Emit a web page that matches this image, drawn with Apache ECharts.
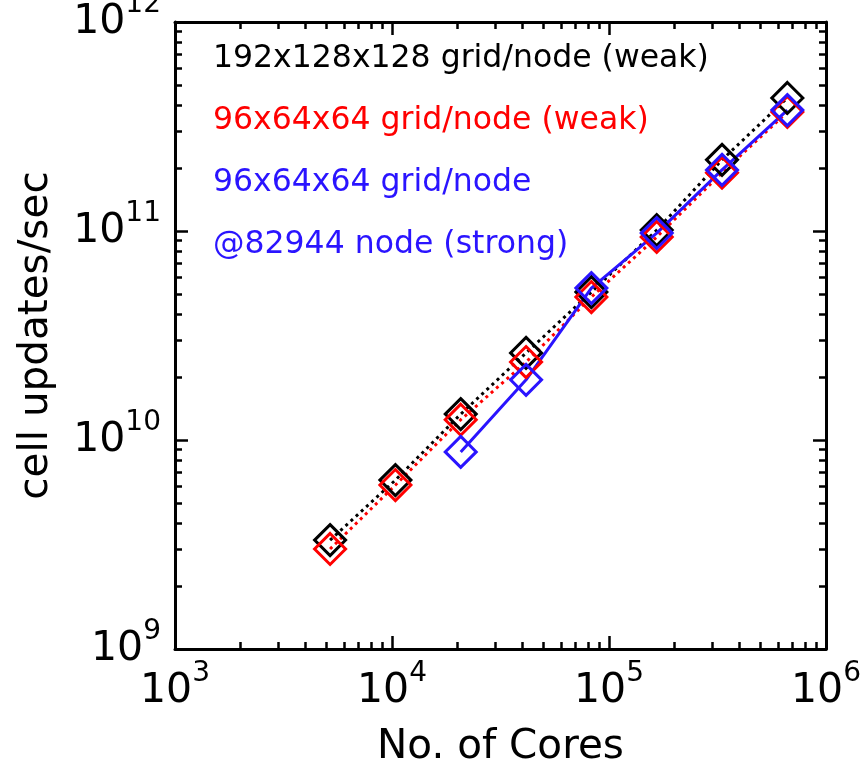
<!DOCTYPE html>
<html>
<head>
<meta charset="utf-8">
<script src="https://cdn.jsdelivr.net/npm/echarts@6/dist/echarts.min.js"></script>
<style>
  html, body { margin: 0; padding: 0; background: #fff; }
  #main { width: 862px; height: 759px; }
</style>
</head>
<body>
<div id="main"></div>
<script>
var FONT = '"DejaVu Sans", sans-serif';

// data
var cores = [5184, 10368, 20736, 41472, 82944, 165888, 331776, 663552];
var weak192 = [3.32e9, 6.43e9, 1.33e10, 2.61e10, 5.10e10, 1.01e11, 2.19e11, 4.33e11];
var weak96 = [3.01e9, 6.09e9, 1.25e10, 2.36e10, 4.83e10, 9.36e10, 1.90e11, 3.71e11];
var strongCores = [20736, 41472, 82944, 165888, 331776, 663552];
var strong96 = [8.77e9, 1.94e10, 5.33e10, 9.77e10, 1.96e11, 3.79e11];

var xMajor = [1e3, 1e4, 1e5, 1e6];
var yMajor = [1e9, 1e10, 1e11, 1e12];

var legendLines = [
    { text: '192x128x128 grid/node (weak)', color: '#000000' },
    { text: '96x64x64 grid/node (weak)', color: '#ff0000' },
    { text: '96x64x64 grid/node', color: '#2a14ff' },
    { text: '@82944 node (strong)', color: '#2a14ff' }
];

function minorsOf(majors) {
    var out = [];
    for (var i = 0; i < majors.length - 1; i++) {
        for (var k = 2; k <= 9; k++) {
            out.push(majors[i] * k);
        }
    }
    return out;
}

function pairs(xs, ys) {
    return xs.map(function (x, i) { return [x, ys[i]]; });
}

var powRich = {
    b: { fontFamily: FONT, fontSize: 41, lineHeight: 44, color: '#000' },
    s: { fontFamily: FONT, fontSize: 28, lineHeight: 28, color: '#000', padding: [0, 0, 34, 0] }
};
function powLabel(v) {
    return '{b|10}{s|' + Math.round(Math.log10(v)) + '}';
}

function makeAxes(dim, min, max, majors, title) {
    var isX = dim === 'x';
    var sides = isX ? ['bottom', 'top'] : ['left', 'right'];
    var axes = [];
    sides.forEach(function (side, si) {
        // major ticks, with the box line
        axes.push({
            type: 'log',
            logBase: 10,
            min: min,
            max: max,
            position: side,
            name: si === 0 ? title : '',
            nameLocation: 'middle',
            nameGap: isX ? 73 : 118,
            nameTextStyle: { fontFamily: FONT, fontSize: 40.5, color: '#000' },
            axisLine: { show: true, onZero: false, lineStyle: { color: '#000', width: 3 } },
            axisTick: { show: true, inside: true, length: 13, customValues: majors, lineStyle: { color: '#000', width: 2.5 } },
            axisLabel: {
                show: si === 0,
                customValues: majors,
                margin: isX ? 20 : 14,
                formatter: powLabel,
                rich: powRich
            },
            splitLine: { show: false }
        });
        // minor ticks
        axes.push({
            type: 'log',
            logBase: 10,
            min: min,
            max: max,
            position: side,
            axisLine: { show: false },
            axisTick: { show: true, inside: true, length: 7, customValues: minorsOf(majors), lineStyle: { color: '#000', width: 2.5 } },
            axisLabel: { show: false },
            splitLine: { show: false }
        });
    });
    return axes;
}

var chart = echarts.init(document.getElementById('main'), null, { renderer: 'canvas' });

var diamond = function (color) {
    return {
        symbol: 'diamond',
        symbolSize: 31,
        itemStyle: { color: 'rgba(0,0,0,0)', borderColor: color, borderWidth: 3 }
    };
};

var option = {
    backgroundColor: '#fff',
    animation: false,
    grid: { left: 175, right: 36, top: 22, bottom: 110, containLabel: false, outerBoundsMode: 'none' },
    xAxis: makeAxes('x', 1e3, 1e6, xMajor, 'No. of Cores'),
    yAxis: makeAxes('y', 1e9, 1e12, yMajor, 'cell updates/sec'),
    series: [
        Object.assign({
            type: 'line',
            data: pairs(cores, weak192),
            lineStyle: { color: '#000000', width: 3, type: [3, 4] }
        }, diamond('#000000')),
        Object.assign({
            type: 'line',
            data: pairs(cores, weak96),
            lineStyle: { color: '#ff0000', width: 3, type: [3, 4] }
        }, diamond('#ff0000')),
        Object.assign({
            type: 'line',
            data: pairs(strongCores, strong96),
            lineStyle: { color: '#2a14ff', width: 3 }
        }, diamond('#2a14ff'))
    ],
    graphic: legendLines.map(function (l, i) {
        return {
            type: 'text',
            left: 213,
            top: 43 + i * 62,
            style: { text: l.text, fill: l.color, font: '31.5px ' + FONT }
        };
    })
};

chart.setOption(option);
</script>
</body>
</html>
